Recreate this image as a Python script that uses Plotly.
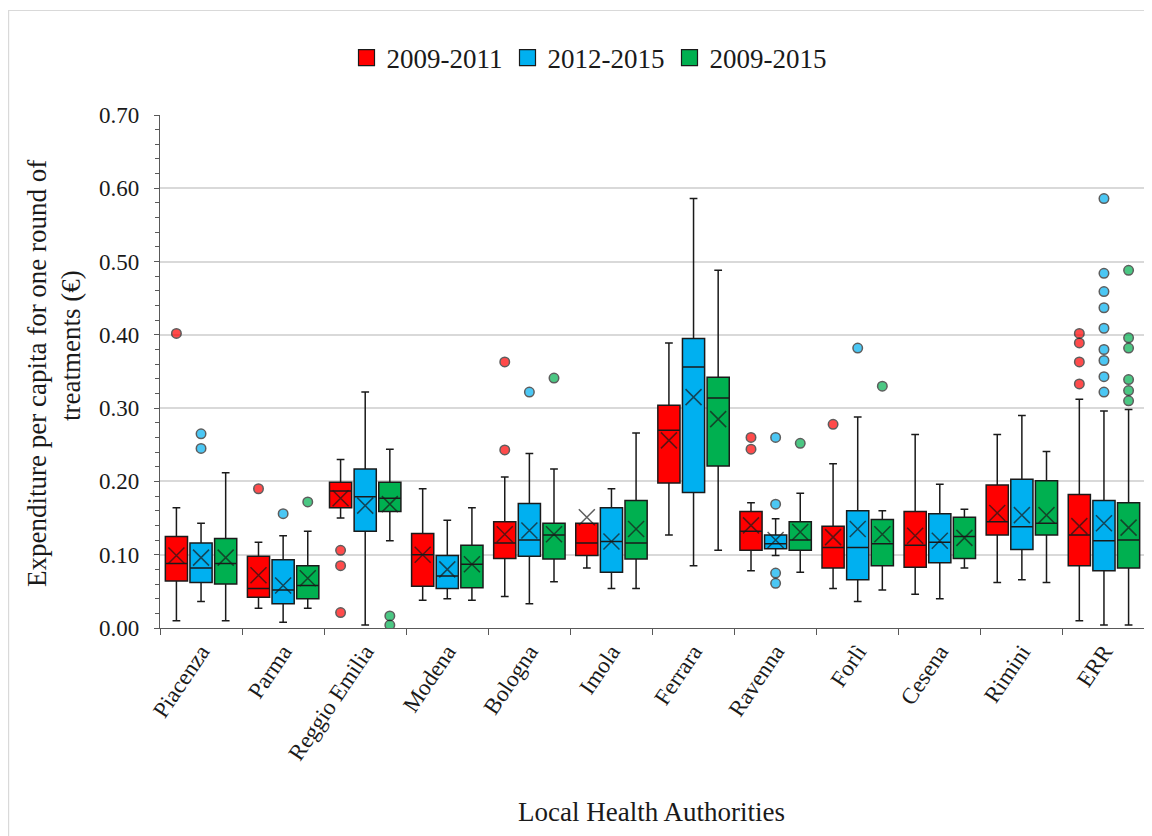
import plotly.graph_objects as go

categories = ["Piacenza", "Parma", "Reggio Emilia", "Modena", "Bologna", "Imola",
              "Ferrara", "Ravenna", "Forlì", "Cesena", "Rimini", "ERR"]

series_names = ["2009-2011", "2012-2015", "2009-2015"]
series_colors = ["#FF0000", "#00B0F0", "#00B050"]

# 2009-2011
lf_a = [0.010, 0.027, 0.150, 0.038, 0.043, 0.082, 0.127, 0.078, 0.054, 0.046, 0.062, 0.010]
q1_a = [0.064, 0.042, 0.164, 0.057, 0.095, 0.099, 0.198, 0.106, 0.082, 0.083, 0.127, 0.085]
md_a = [0.088, 0.054, 0.187, 0.100, 0.116, 0.116, 0.270, 0.132, 0.110, 0.113, 0.145, 0.127]
q3_a = [0.125, 0.098, 0.199, 0.129, 0.145, 0.143, 0.304, 0.159, 0.139, 0.159, 0.195, 0.182]
uf_a = [0.164, 0.117, 0.230, 0.190, 0.206, 0.143, 0.389, 0.171, 0.224, 0.264, 0.264, 0.312]
mean_a = [0.099, 0.072, 0.177, 0.100, 0.128, 0.151, 0.256, 0.140, 0.124, 0.126, 0.157, 0.139]
out_a = [[0.402], [0.190], [0.106, 0.085, 0.021], [], [0.243, 0.363], [], [],
         [0.260, 0.244], [0.278], [], [], [0.402, 0.389, 0.363, 0.333]]

# 2012-2015
lf_b = [0.036, 0.008, 0.004, 0.040, 0.033, 0.054, 0.085, 0.099, 0.036, 0.040, 0.066, 0.004]
q1_b = [0.062, 0.033, 0.132, 0.054, 0.098, 0.076, 0.185, 0.108, 0.066, 0.089, 0.107, 0.078]
md_b = [0.082, 0.052, 0.179, 0.071, 0.120, 0.118, 0.356, 0.115, 0.110, 0.117, 0.138, 0.119]
q3_b = [0.116, 0.093, 0.217, 0.099, 0.170, 0.164, 0.395, 0.127, 0.160, 0.156, 0.203, 0.174]
uf_b = [0.143, 0.126, 0.322, 0.147, 0.238, 0.190, 0.586, 0.149, 0.288, 0.196, 0.290, 0.296]
mean_b = [0.096, 0.058, 0.167, 0.080, 0.133, 0.118, 0.315, 0.120, 0.135, 0.119, 0.154, 0.143]
out_b = [[0.265, 0.245], [0.156], [], [], [0.322], [], [],
         [0.260, 0.169, 0.075, 0.061], [0.382], [], [],
         [0.586, 0.484, 0.459, 0.437, 0.409, 0.380, 0.365, 0.343, 0.322]]

# 2009-2015
lf_c = [0.010, 0.027, 0.119, 0.038, 0.063, 0.054, 0.106, 0.076, 0.052, 0.082, 0.062, 0.004]
q1_c = [0.060, 0.040, 0.159, 0.055, 0.094, 0.094, 0.221, 0.106, 0.085, 0.095, 0.127, 0.082]
md_c = [0.088, 0.058, 0.177, 0.087, 0.127, 0.116, 0.314, 0.120, 0.115, 0.125, 0.143, 0.120]
q3_c = [0.122, 0.085, 0.199, 0.113, 0.143, 0.174, 0.342, 0.145, 0.148, 0.151, 0.201, 0.171]
uf_c = [0.212, 0.132, 0.244, 0.164, 0.217, 0.266, 0.488, 0.184, 0.160, 0.162, 0.241, 0.298]
mean_c = [0.096, 0.068, 0.169, 0.087, 0.128, 0.135, 0.285, 0.131, 0.128, 0.123, 0.154, 0.137]
out_c = [[], [0.172], [0.0165, 0.004], [], [0.341], [], [],
         [0.252], [0.330], [], [], [0.488, 0.396, 0.382, 0.339, 0.324, 0.310]]

stats = [
    (lf_a, q1_a, md_a, q3_a, uf_a, mean_a, out_a),
    (lf_b, q1_b, md_b, q3_b, uf_b, mean_b, out_b),
    (lf_c, q1_c, md_c, q3_c, uf_c, mean_c, out_c),
]

FONT = "Liberation Serif, Times New Roman, serif"
EDGE = "#1a1a1a"
TXT = "#1a1a1a"

fig = go.Figure()

for i, (name, color, st) in enumerate(zip(series_names, series_colors, stats)):
    lf, q1, md, q3, uf, mn, outs = st
    fig.add_trace(go.Box(
        name=name, x=categories, q1=q1, median=md, q3=q3,
        lowerfence=lf, upperfence=uf,
        fillcolor=color, line=dict(color=EDGE, width=1.5),
        marker=dict(color=color), whiskerwidth=0.35,
        boxpoints=False, offsetgroup=str(i), showlegend=False,
        hoverinfo="skip",
    ))

for i, (name, color, st) in enumerate(zip(series_names, series_colors, stats)):
    lf, q1, md, q3, uf, mn, outs = st
    xs, ys, syms, sizes, cols = [], [], [], [], []
    for cat, m, o in zip(categories, mn, outs):
        for v in o:
            xs.append(cat); ys.append(v); syms.append("circle")
            sizes.append(9.5); cols.append(color)
        xs.append(cat); ys.append(m); syms.append("x-thin")
        sizes.append(16); cols.append(EDGE)
    fig.add_trace(go.Scatter(
        x=xs, y=ys, mode="markers", showlegend=False, offsetgroup=str(i),
        marker=dict(symbol=syms, size=sizes, color=cols,
                    line=dict(color=EDGE, width=1.5)),
        hoverinfo="skip",
    ))

# legend-only entries (square swatches) on a hidden overlay axis
for name, color in zip(series_names, series_colors):
    fig.add_trace(go.Scatter(
        x=[None], y=[None], mode="markers", name=name,
        xaxis="x2", yaxis="y2",
        marker=dict(symbol="square", size=16, color=color,
                    line=dict(color=EDGE, width=1.2)),
    ))

# the page body adds an 8px offset; work in screen pixels
OFF = 8
W, H = 1152 - OFF, 836 - OFF
SL, SR, ST, SB = 160, 1145, 115, 628   # plot area in screen px
L, T = SL - OFF, ST - OFF
R, B = W - (SR - OFF), H - (SB - OFF)
pw, ph = SR - SL, SB - ST


def px_x(p):
    return (p - SL) / pw


def px_y(p):
    return (SB - p) / ph


fig.update_layout(
    width=W, height=H,
    margin=dict(l=L, r=R, t=T, b=B),
    paper_bgcolor="white", plot_bgcolor="white",
    font=dict(family=FONT, size=23, color=TXT),
    boxmode="group", boxgap=0.1, boxgroupgap=0.1,
    scattermode="group", scattergap=0.1,
    showlegend=True,
    legend=dict(orientation="h", x=px_x(589), y=px_y(58), xanchor="center",
                yanchor="middle", font=dict(size=27, family=FONT, color=TXT),
                itemwidth=30, traceorder="normal"),
    xaxis=dict(
        type="category", categoryorder="array", categoryarray=categories,
        tickson="boundaries", ticks="outside", ticklen=6, tickcolor="#595959",
        showline=True, linecolor="#595959", linewidth=1.2,
        tickangle=-56, tickfont=dict(size=23, family=FONT, color=TXT),
        showgrid=False, zeroline=False,
    ),
    yaxis=dict(
        range=[0, 0.70], dtick=0.1, tickformat=".2f",
        showgrid=True, gridcolor="#d9d9d9", gridwidth=1.5,
        showline=True, linecolor="#595959", linewidth=1.2,
        ticks="outside", ticklen=5, tickcolor="#595959",
        minor=dict(dtick=0.02, ticks="outside", ticklen=4, tickcolor="#595959",
                   showgrid=False),
        zeroline=False, tickfont=dict(size=23, family=FONT, color=TXT),
        ticklabelstandoff=10,
    ),
    xaxis2=dict(overlaying="x", visible=False, range=[0, 1]),
    yaxis2=dict(overlaying="y", visible=False, range=[0, 1]),
    annotations=[
        dict(text="Expenditure per capita for one round of", textangle=-90,
             xref="paper", yref="paper", x=px_x(37), y=px_y(374),
             xanchor="center", yanchor="middle", showarrow=False,
             font=dict(size=27, family=FONT, color=TXT)),
        dict(text="treatments (€)", textangle=-90,
             xref="paper", yref="paper", x=px_x(71), y=px_y(346),
             xanchor="center", yanchor="middle", showarrow=False,
             font=dict(size=27, family=FONT, color=TXT)),
        dict(text="Local Health Authorities",
             xref="paper", yref="paper", x=px_x(651), y=px_y(812),
             xanchor="center", yanchor="middle", showarrow=False,
             font=dict(size=27, family=FONT, color=TXT)),
    ],
    shapes=[
        dict(type="rect", xref="paper", yref="paper",
             x0=px_x(8.6), x1=px_x(1190), y0=px_y(900), y1=px_y(10.5),
             line=dict(color="#d9d9d9", width=1.2), fillcolor="rgba(0,0,0,0)",
             layer="below"),
    ],
)

fig.write_html("out.html")
